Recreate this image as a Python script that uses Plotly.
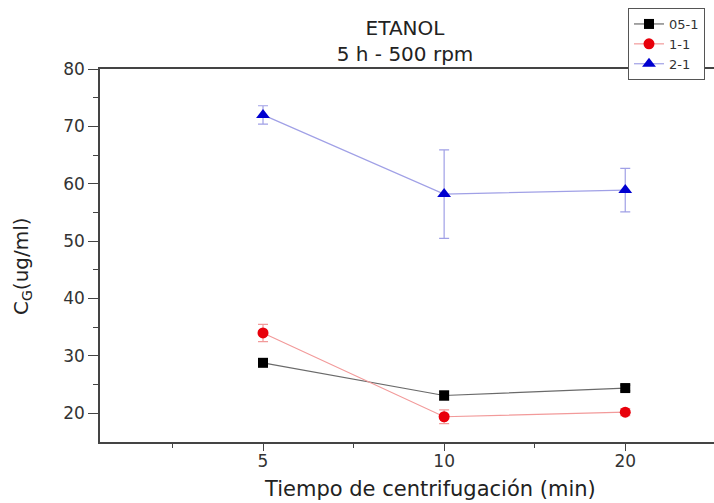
import plotly.graph_objects as go

# Centrifugation time categories (min) and their plotting positions
time_labels = ["5", "10", "20"]
positions = [1, 2, 3]

# Mean concentration C_G (ug/ml) per series
c_05_1 = [28.8, 23.1, 24.4]
c_1_1 = [34.0, 19.4, 20.2]
c_2_1 = [72.0, 58.2, 58.9]

# Standard deviations
e_05_1 = [0.5, 0.8, 0.5]
e_1_1 = [1.5, 1.2, 0.6]
e_2_1 = [1.6, 7.7, 3.8]

series = [
    ("05-1", c_05_1, e_05_1, "#000000", "#6a6a6a", "square", 10),
    ("1-1", c_1_1, e_1_1, "#e8000b", "#f29a9a", "circle", 11),
    ("2-1", c_2_1, e_2_1, "#0000d0", "#a0a0e6", "triangle-up", 12),
]

fig = go.Figure()
for name, vals, errs, mcol, lcol, sym, size in series:
    fig.add_trace(go.Scatter(
        x=positions, y=vals, name=name, mode="lines+markers",
        line=dict(color=lcol, width=1.2),
        marker=dict(color=mcol, symbol=sym, size=size),
        error_y=dict(type="data", array=errs, color=lcol, thickness=1.2, width=5),
    ))

font = "DejaVu Sans, Arial, sans-serif"
axis_col = "#444444"
fig.update_layout(
    width=714, height=503,
    margin=dict(l=100, r=0, t=69, b=61),
    paper_bgcolor="white", plot_bgcolor="white",
    font=dict(family=font, color="#333333"),
    title=dict(text="ETANOL<br>5 h - 500 rpm", x=(405 / 714), xanchor="center",
               y=1 - 35 / 503, yanchor="top", font=dict(size=20, color="#222222")),
    showlegend=True,
    legend=dict(x=(628 - 100) / 614, y=1 + (69 - 8) / 373, xanchor="left", yanchor="top",
                bordercolor="#555555", borderwidth=1, bgcolor="white",
                font=dict(size=13, color="#333333"), tracegroupgap=0,
                itemwidth=30),
)
fig.update_xaxes(
    range=[0.1, 3.49], tickvals=positions, ticktext=time_labels,
    showgrid=False, zeroline=False,
    showline=True, linecolor=axis_col, linewidth=1.5, mirror=True,
    ticks="outside", ticklen=7, tickcolor=axis_col, tickwidth=1.2,
    minor=dict(tickvals=[0.5, 1.5, 2.5], ticks="outside", ticklen=4, tickcolor=axis_col),
    tickfont=dict(size=17, color="#333333"), ticklabelstandoff=-4,
)
fig.update_yaxes(
    range=[15, 80], tickvals=[20, 30, 40, 50, 60, 70, 80],
    showgrid=False, zeroline=False,
    showline=True, linecolor=axis_col, linewidth=1.5, mirror=False,
    ticks="outside", ticklen=10, tickcolor=axis_col, tickwidth=1.2,
    minor=dict(tickvals=[25, 35, 45, 55, 65, 75], ticks="outside", ticklen=5, tickcolor=axis_col),
    tickfont=dict(size=17, color="#333333"),
)

# Axis titles placed as paper annotations
fig.add_annotation(
    text="Tiempo de centrifugación (min)", xref="paper", yref="paper",
    x=(430 - 100) / 614, y=(442 - 489) / 373, xanchor="center", yanchor="middle",
    showarrow=False, font=dict(size=21, color="#222222"),
)
fig.add_annotation(
    text="C<sub>G</sub>(ug/ml)", xref="paper", yref="paper",
    x=(22 - 100) / 614, y=(442 - 266) / 373, xanchor="center", yanchor="middle",
    textangle=-90, showarrow=False, font=dict(size=20, color="#222222"),
)

fig.write_html("out.html")
